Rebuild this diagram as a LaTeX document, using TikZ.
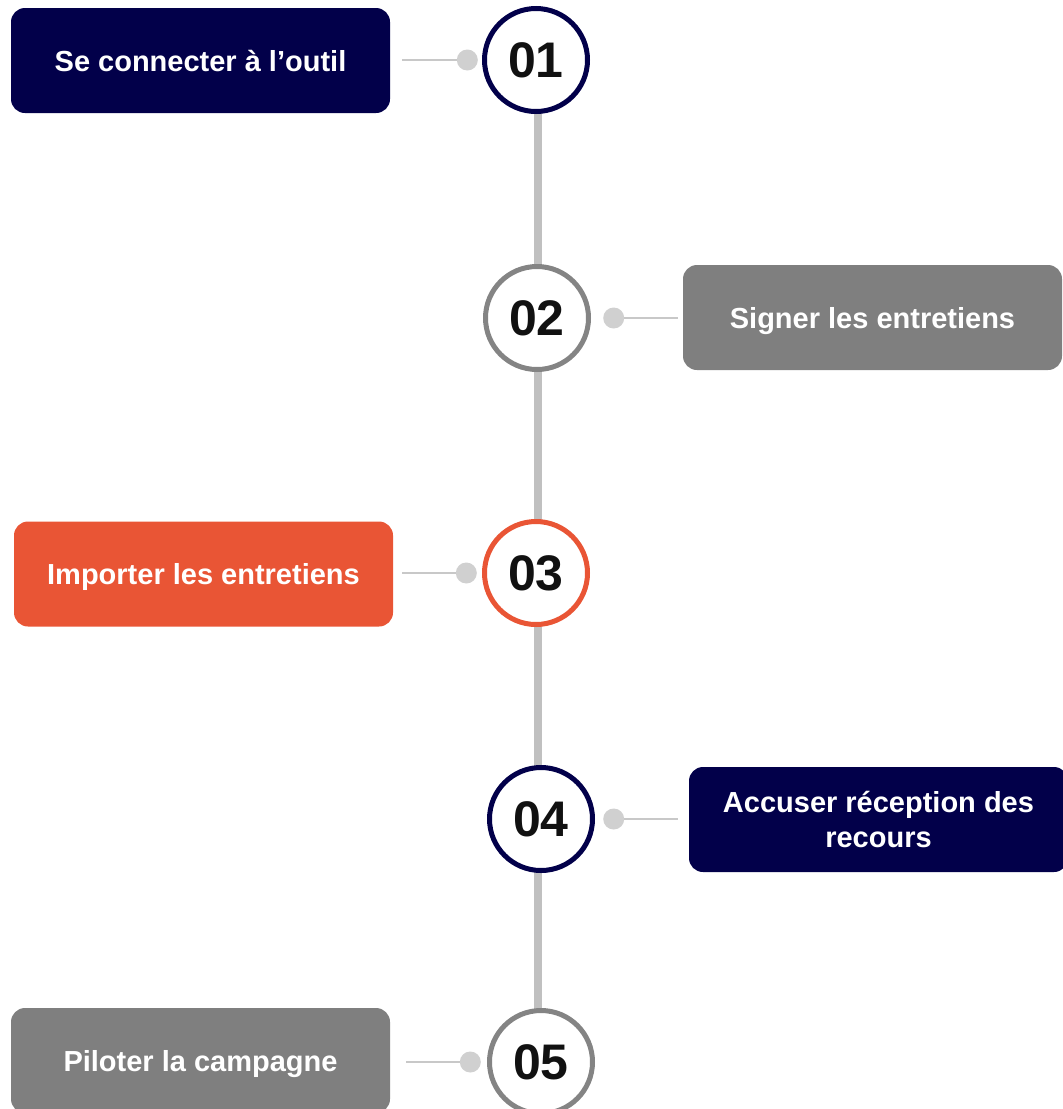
\documentclass[tikz,border=0pt]{standalone}
\usepackage{fontspec}
\setmainfont{Liberation Sans}
\usetikzlibrary{positioning}
\definecolor{navy}{HTML}{02004A}
\definecolor{flame}{HTML}{E95535}
\definecolor{boxgray}{HTML}{7F7F7F}
\definecolor{ringgray}{HTML}{848484}
\definecolor{spinegray}{HTML}{C0C0C0}
\definecolor{dotgray}{HTML}{D0D0D0}
\definecolor{linkgray}{HTML}{C8C8C8}
\definecolor{numblack}{HTML}{111111}

\begin{document}
\begin{tikzpicture}[x=1pt, y=-1pt,
        stepbox/.style={rounded corners=14pt, minimum width=379pt, minimum height=105pt, text=white, align=center, text depth=0pt, font=\fontsize{29}{35}\selectfont\bfseries},
        num/.style={circle, draw, fill=white, line width=5pt, minimum size=103pt, inner sep=0pt, text=numblack, font=\fontsize{50}{50}\selectfont\bfseries},
        knob/.style={circle, fill=dotgray, minimum size=21pt, inner sep=0pt},
        link/.style={draw=linkgray, line width=2pt},
        spine/.style={draw=spinegray, line width=8pt}]
        \clip (0, 0) rectangle (1063, 1109);

        \coordinate (top) at (538, 60);
        \coordinate (bot) at (538, 1062);
        \draw[spine] (top) -- (bot);

        \node[num, draw=navy] (c1) at (536, 60) {01};
        \node[num, draw=ringgray] (c2) at (537, 318) {02};
        \node[num, draw=flame] (c3) at (536, 573) {03};
        \node[num, draw=navy] (c4) at (541, 819) {04};
        \node[num, draw=ringgray] (c5) at (541, 1062) {05};

        \node[stepbox, fill=navy] (b1) at (200.5, 60.5) {Se connecter à l’outil};
        \node[stepbox, fill=boxgray] (b2) at (872.5, 317.5) {Signer les entretiens};
        \node[stepbox, fill=flame] (b3) at (203.5, 574) {Importer les entretiens};
        \node[stepbox, fill=navy] (b4) at (878.5, 819.5) {Accuser réception des\\recours};
        \node[stepbox, fill=boxgray] (b5) at (200.5, 1060.5) {Piloter la campagne};

        \node[knob, left = 4pt of c1] (d1) {};
        \node[knob, right = 12pt of c2] (d2) {};
        \node[knob, left = 5pt of c3] (d3) {};
        \node[knob, right = 8pt of c4] (d4) {};
        \node[knob, left = 6pt of c5] (d5) {};

        \draw[link, shorten <=12pt] (b1.east |- d1) -- (d1);
        \draw[link, shorten >=5pt] (d2) -- (b2.west |- d2);
        \draw[link, shorten <=9pt] (b3.east |- d3) -- (d3);
        \draw[link, shorten >=11pt] (d4) -- (b4.west |- d4);
        \draw[link, shorten <=16pt] (b5.east |- d5) -- (d5);
    \end{tikzpicture}
\end{document}
